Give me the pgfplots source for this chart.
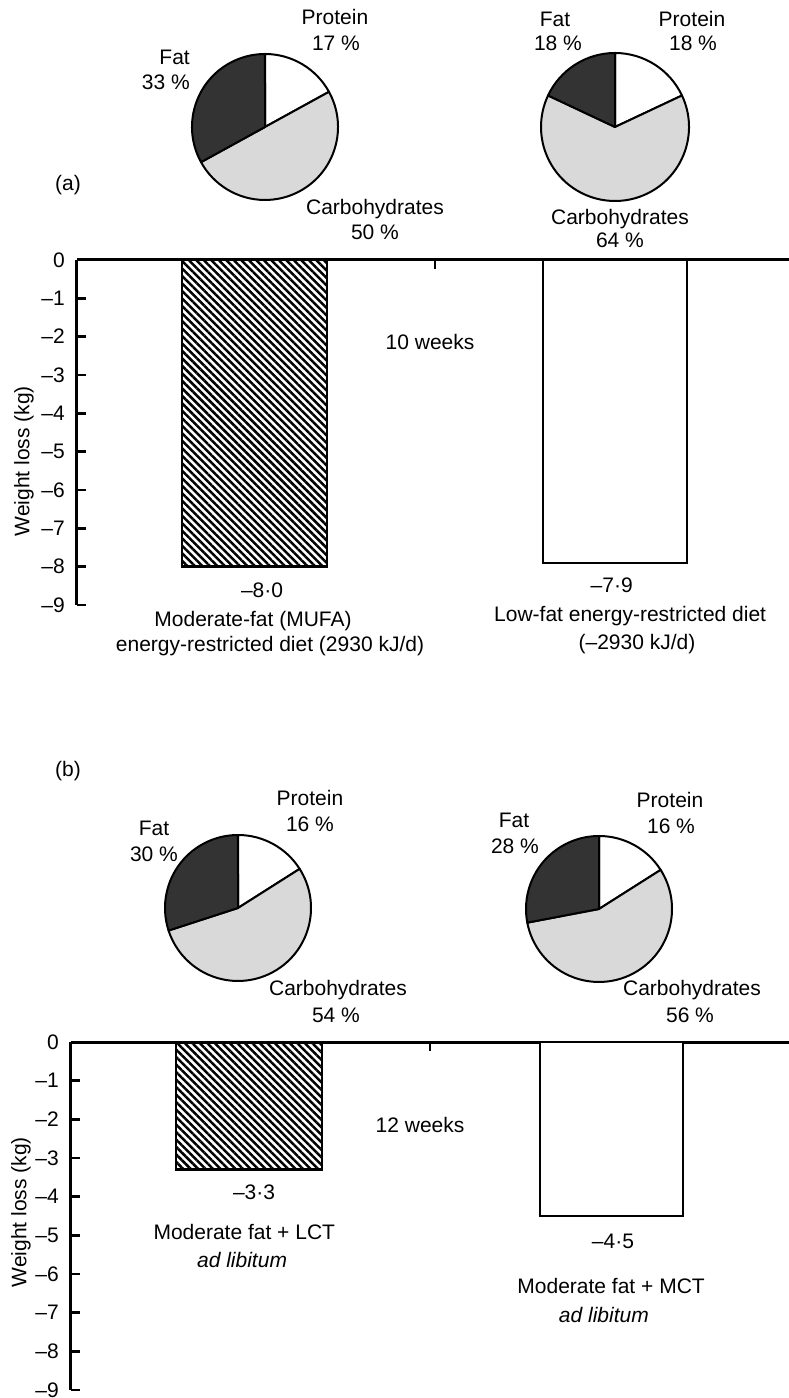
\documentclass[border=0pt]{standalone}
\usepackage{fontspec}
\setmainfont{Liberation Sans}
\usepackage{pgfplots}
\pgfplotsset{compat=1.18}
\usetikzlibrary{patterns.meta}
\definecolor{fatc}{gray}{0.2}
\definecolor{carbc}{gray}{0.85}
\newcommand\ff{\fontsize{21}{25}\selectfont}
% #1 radius, #2 protein, #3 carbohydrates, #4 fat (percent)
\newcommand\piechart[4]{%
  \filldraw[fill=white,draw=black,line width=2pt,line join=round]
    (0,0) -- (0,#1) arc[start angle=90,end angle={90-3.6*#2},radius=#1 pt] -- cycle;
  \filldraw[fill=carbc,draw=black,line width=2pt,line join=round]
    (0,0) -- ({#1*cos(90-3.6*#2)},{#1*sin(90-3.6*#2)})
    arc[start angle={90-3.6*#2},end angle={90-3.6*(#2+#3)},radius=#1 pt] -- cycle;
  \filldraw[fill=fatc,draw=black,line width=2pt,line join=round]
    (0,0) -- ({#1*cos(90-3.6*(#2+#3))},{#1*sin(90-3.6*(#2+#3))})
    arc[start angle={90-3.6*(#2+#3)},end angle={90-3.6*(#2+#3+#4)},radius=#1 pt] -- cycle;
}
\pgfplotsset{
  pieaxis/.style={hide axis, x=1pt, y=1pt, xmin=-80, xmax=80, ymin=-80, ymax=80,
    anchor=center, clip=false},
  baraxis/.style={scale only axis, anchor=south west, ymin=-9, ymax=0,
    axis x line=top, axis y line=left, axis line style={-, line width=3pt, black},
    tick align=inside, major tick length=9pt,
    tick style={black, line width=2.5pt},
    xtick={0.5}, xticklabel=\empty,
    ytick={-9,-8,-7,-6,-5,-4,-3,-2,-1,0},
    yticklabels={–9,–8,–7,–6,–5,–4,–3,–2,–1,0},
    yticklabel style={font=\ff, inner sep=0pt, anchor=east, xshift=-12pt},
    ylabel={Weight loss (kg)},
    clip=false},
  hatchbar/.style={ybar, bar shift=0pt, draw=black, line width=2.5pt,
    pattern={Lines[angle=-45,distance=5.3pt,line width=2.5pt]}, pattern color=black},
  whitebar/.style={ybar, bar shift=0pt, draw=black, line width=2pt, fill=white},
}
\begin{document}
\ff
\begin{tikzpicture}[every node/.append style={font=\ff}]
\useasboundingbox (0pt,0pt) rectangle (789pt,1398pt);

% ---------------- Panel (a) ----------------
\node[anchor=base west] at (48pt,1207pt) {(a)};

\begin{axis}[pieaxis, at={(265pt,1271pt)}]
  \piechart{73}{17}{50}{33}
\end{axis}
\begin{axis}[pieaxis, at={(615pt,1271pt)}]
  \piechart{74}{18}{64}{18}
\end{axis}

\node[anchor=base] at (335pt,1373pt) {Protein};
\node[anchor=base] at (336pt,1347pt) {17 \%};
\node[anchor=base east] at (197pt,1333pt) {Fat};
\node[anchor=base east] at (197pt,1308pt) {33 \%};
\node[anchor=base] at (375pt,1183pt) {Carbohydrates};
\node[anchor=base] at (375pt,1158pt) {50 \%};

\node[anchor=base] at (555pt,1371pt) {Fat};
\node[anchor=base] at (558pt,1347pt) {18 \%};
\node[anchor=base] at (692pt,1371pt) {Protein};
\node[anchor=base] at (693pt,1347pt) {18 \%};
\node[anchor=base] at (620pt,1173pt) {Carbohydrates};
\node[anchor=base] at (620pt,1150pt) {64 \%};

\begin{axis}[baraxis, at={(77pt,793pt)}, width=712pt, height=345pt,
  xmin=-0.4924, xmax=1.4827,
  ylabel style={font=\ff, at={(axis description cs:-0.0744,0.417)}, anchor=center}]
  \addplot[hatchbar, bar width=145pt] coordinates {(0,-8.0)};
  \addplot[whitebar, bar width=144pt] coordinates {(1,-7.9)};
  \node[anchor=base, font=\ff] at (axis cs:0.487,-2.322) {10 weeks};
  \node[anchor=base, font=\ff] at (axis cs:0.021,-8.817) {–8·0};
  \node[anchor=base, font=\ff] at (axis cs:-0.004,-9.574) {Moderate-fat (MUFA)};
  \node[anchor=base, font=\ff] at (axis cs:0.043,-10.226) {energy-restricted diet (2930 kJ/d)};
  \node[anchor=base, font=\ff] at (axis cs:0.991,-8.687) {–7·9};
  \node[anchor=base, font=\ff] at (axis cs:1.042,-9.443) {Low-fat energy-restricted diet};
  \node[anchor=base, font=\ff] at (axis cs:1.061,-10.174) {(–2930 kJ/d)};
\end{axis}

% ---------------- Panel (b) ----------------
\node[anchor=base west] at (48pt,621pt) {(b)};

\begin{axis}[pieaxis, at={(238pt,490pt)}]
  \piechart{73}{16}{54}{30}
\end{axis}
\begin{axis}[pieaxis, at={(599pt,489pt)}]
  \piechart{73}{16}{56}{28}
\end{axis}

\node[anchor=base] at (310pt,592pt) {Protein};
\node[anchor=base] at (310pt,566pt) {16 \%};
\node[anchor=base] at (154pt,562pt) {Fat};
\node[anchor=base] at (154pt,536pt) {30 \%};
\node[anchor=base] at (338pt,402pt) {Carbohydrates};
\node[anchor=base] at (336pt,375pt) {54 \%};

\node[anchor=base] at (670pt,590pt) {Protein};
\node[anchor=base] at (671pt,564pt) {16 \%};
\node[anchor=base] at (514pt,570pt) {Fat};
\node[anchor=base] at (515pt,544pt) {28 \%};
\node[anchor=base] at (692pt,402pt) {Carbohydrates};
\node[anchor=base] at (690pt,375pt) {56 \%};

\begin{axis}[baraxis, at={(71pt,8pt)}, width=718pt, height=348pt,
  xmin=-0.491, xmax=1.4897,
  ylabel style={font=\ff, at={(axis description cs:-0.0696,0.511)}, anchor=center}]
  \addplot[hatchbar, bar width=146pt] coordinates {(0,-3.3)};
  \addplot[whitebar, bar width=143pt] coordinates {(1,-4.5)};
  \node[anchor=base, font=\ff] at (axis cs:0.472,-2.328) {12 weeks};
  \node[anchor=base, font=\ff] at (axis cs:0.014,-4.086) {–3·3};
  \node[anchor=base, font=\ff] at (axis cs:-0.013,-5.095) {Moderate fat + LCT};
  \node[anchor=base, font=\ff] at (axis cs:-0.019,-5.819) {\itshape ad libitum};
  \node[anchor=base, font=\ff] at (axis cs:1.004,-5.353) {–4·5};
  \node[anchor=base, font=\ff] at (axis cs:0.999,-6.517) {Moderate fat + MCT};
  \node[anchor=base, font=\ff] at (axis cs:0.979,-7.267) {\itshape ad libitum};
\end{axis}
\end{tikzpicture}
\end{document}
